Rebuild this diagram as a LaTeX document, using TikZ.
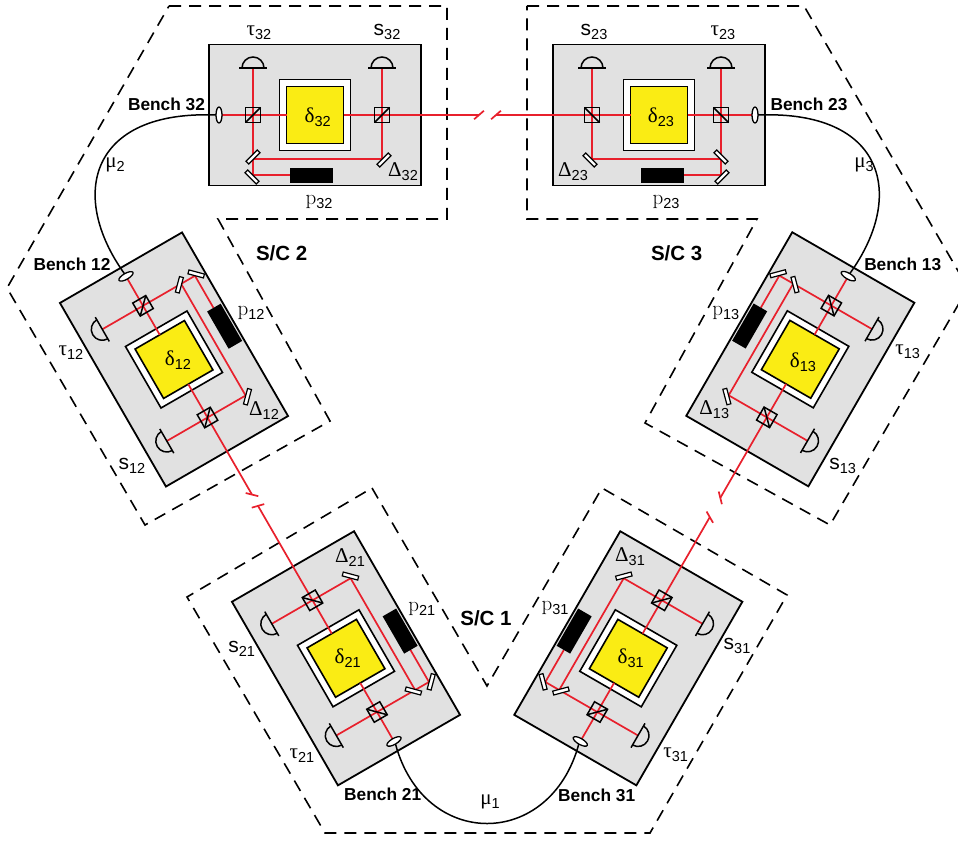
\documentclass[tikz,border=0pt]{standalone}
\usepackage{fontspec}
\setsansfont{Liberation Sans}
\newfontfamily\greekfam{Liberation Serif}
\usepackage{xcolor}
\usepackage{tikz}
\definecolor{benchgray}{RGB}{225,225,225}
\definecolor{massyellow}{RGB}{250,236,20}
\definecolor{beamred}{RGB}{232,32,44}
\tikzset{
  benchbox/.style={draw=black, fill=benchgray, line width=1.8pt},
  cagebox/.style={draw=black, fill=white, line width=1.6pt},
  massbox/.style={draw=black, fill=massyellow, line width=1.6pt},
  beam/.style={color=beamred, line width=1.7pt},
  splitter/.style={draw=black, line width=1.5pt},
  mirrorbox/.style={draw=black, fill=white, line width=1.2pt},
  lensbox/.style={draw=black, fill=white, line width=1.3pt},
  diode/.style={draw=black, line width=1.5pt},
  fibre/.style={draw=black, line width=1.5pt},
  craft/.style={draw=black, dash pattern=on 12pt off 8pt, line width=1.6pt},
  symlabel/.style={font=\fontsize{21}{23}\selectfont, inner sep=0pt, text=black},
  benchlabel/.style={font=\fontsize{17.3}{19}\selectfont\sffamily\bfseries, inner sep=0pt},
  craftlabel/.style={font=\fontsize{20.5}{23}\selectfont\sffamily\bfseries, inner sep=0pt}
}
\newcommand{\sublabel}[2]{#1\raisebox{-4pt}{\fontsize{14.5}{15}\selectfont\sffamily #2}}
% id, centre, rotation, flip, beam length, tick angle
\newcommand{\bench}[6]{
  \begin{scope}[shift={(#2)}, rotate=#3, yscale=#4]
    \coordinate (fib#1) at (-99,0);
    \draw[benchbox] (-106,-70.5) rectangle (106,70.5);
    \draw[cagebox] (-35.5,-35.5) rectangle (35.5,35.5);
    \draw[massbox] (-28.5,-28.5) rectangle (28.5,28.5);
    % beams
    \draw[beam] (-96,0) -- (-28.5,0);
    \draw[beam] (28.5,0) -- (#5,0);
    \draw[beam] (#5,0) ++(#6:6.5) -- ++(#6+180:13);
    \draw[beam] (-25,60) -- (-62,60) -- (-62,-47);
    \draw[beam] (-62,44) -- (67,44) -- (67,-47);
    % beam splitters
    \draw[splitter] (-69.5,-7.5) rectangle (-54.5,7.5);
    \draw[splitter] (-69.5,7.5) -- (-54.5,-7.5);
    \draw[splitter] (59.5,-7.5) rectangle (74.5,7.5);
    \draw[splitter] (59.5,7.5) -- (74.5,-7.5);
    % photodiodes
    \draw[diode] (-76,-47) -- (-48,-47);
    \draw[diode] (-73,-47) arc[start angle=180, end angle=360, radius=11];
    \draw[diode] (53,-47) -- (81,-47);
    \draw[diode] (56,-47) arc[start angle=180, end angle=360, radius=11];
    % mirrors and phase meter
    \draw[mirrorbox, rotate around={45:(-62,42)}] (-70,40) rectangle (-54,44);
    \draw[mirrorbox, rotate around={-45:(-63,62)}] (-71,60) rectangle (-55,64);
    \draw[mirrorbox, rotate around={45:(69,45)}] (61,43) rectangle (77,47);
    \fill[black] (-25,52.7) rectangle (18,68.3);
    \draw[lensbox] (-96,0) ellipse [x radius=3, y radius=8];
  \end{scope}
}
\begin{document}
\begin{tikzpicture}[x=1pt, y=-1pt]
  \useasboundingbox (0,0) rectangle (958,842);

  % Spacecraft outlines
  \draw[craft] (169,6) -- (447,6) -- (447,219) -- (218,219) -- (330,421) -- (145,525) -- (7,288) -- cycle;
  \draw[craft] (527,6) -- (804,6) -- (968,288) -- (830,525) -- (645,423) -- (757,219) -- (527,219) -- cycle;
  \draw[craft] (372,488) -- (487,686) -- (602,488) -- (787,595) -- (650,833) -- (325,833) -- (187,597) -- cycle;

  % Optical benches
  \bench{32}{315,115}{0}{1}{164}{-41}
  \bench{23}{659,115}{180}{-1}{163}{41}
  \bench{12}{174,359.5}{-60}{-1}{156}{46}
  \bench{21}{346,658.3}{120}{1}{176}{104}
  \bench{13}{800.3,359.3}{-120}{1}{160}{-44}
  \bench{31}{628.3,658.3}{60}{-1}{163}{60}

  % Fibres
  \draw[fibre] (fib32) .. controls (90,110) and (68,195) .. (fib12);
  \draw[fibre] (fib23) .. controls (884.5,110) and (906.5,195) .. (fib13);
  \draw[fibre] (fib21) .. controls (424,850) and (550,850) .. (fib31);

  % Labels
  \node[benchlabel] (lab32) at (166.5,104) {Bench 32};
  \node[benchlabel] (lab23) at (809,104) {Bench 23};
  \node[benchlabel] (lab12) at (72,264) {Bench 12};
  \node[benchlabel] (lab13) at (902.7,264) {Bench 13};
  \node[benchlabel] (lab21) at (382.7,794) {Bench 21};
  \node[benchlabel] (lab31) at (596.7,795) {Bench 31};

  \node[craftlabel] (craft2) at (281.7,253) {S/C 2};
  \node[craftlabel] (craft3) at (676.7,253) {S/C 3};
  \node[craftlabel] (craft1) at (486,618) {S/C 1};

  \node[symlabel] (mu1) at (490,802) {\sublabel{\greekfam μ}{1}};
  \node[symlabel] (mu2) at (115,165) {\sublabel{\greekfam μ}{2}};
  \node[symlabel] (mu3) at (864,165) {\sublabel{\greekfam μ}{3}};

  \node[symlabel] (tau32) at (259,33) {\sublabel{\greekfam τ}{32}};
  \node[symlabel] (s32) at (387,32) {\sublabel{\sffamily s}{32}};
  \node[symlabel] (delta32) at (317.7,117) {\sublabel{\greekfam δ}{32}};
  \node[symlabel] (cap32) at (403,172) {\sublabel{\greekfam Δ}{32}};
  \node[symlabel] (p32) at (319,202) {\sublabel{p}{32}};

  \node[symlabel] (s23) at (594,32) {\sublabel{\sffamily s}{23}};
  \node[symlabel] (tau23) at (723,33) {\sublabel{\greekfam τ}{23}};
  \node[symlabel] (delta23) at (661,117) {\sublabel{\greekfam δ}{23}};
  \node[symlabel] (cap23) at (573,172) {\sublabel{\greekfam Δ}{23}};
  \node[symlabel] (p23) at (666,202) {\sublabel{p}{23}};

  \node[symlabel] (tau12) at (71,353) {\sublabel{\greekfam τ}{12}};
  \node[symlabel] (s12) at (132,466) {\sublabel{\sffamily s}{12}};
  \node[symlabel] (delta12) at (178,360) {\sublabel{\greekfam δ}{12}};
  \node[symlabel] (cap12) at (264,411) {\sublabel{\greekfam Δ}{12}};
  \node[symlabel] (p12) at (251,313) {\sublabel{p}{12}};

  \node[symlabel] (s21) at (241.7,649) {\sublabel{\sffamily s}{21}};
  \node[symlabel] (tau21) at (302,756) {\sublabel{\greekfam τ}{21}};
  \node[symlabel] (delta21) at (347.7,658) {\sublabel{\greekfam δ}{21}};
  \node[symlabel] (cap21) at (350,558) {\sublabel{\greekfam Δ}{21}};
  \node[symlabel] (p21) at (421.7,609) {\sublabel{p}{21}};

  \node[symlabel] (s31) at (737,646) {\sublabel{\sffamily s}{31}};
  \node[symlabel] (tau31) at (675.7,755) {\sublabel{\greekfam τ}{31}};
  \node[symlabel] (delta31) at (630.7,658) {\sublabel{\greekfam δ}{31}};
  \node[symlabel] (cap31) at (630,557) {\sublabel{\greekfam Δ}{31}};
  \node[symlabel] (p31) at (555,608) {\sublabel{p}{31}};

  \node[symlabel] (p13) at (725.7,313) {\sublabel{p}{13}};
  \node[symlabel] (tau13) at (907.7,352) {\sublabel{\greekfam τ}{13}};
  \node[symlabel] (s13) at (842.7,466) {\sublabel{\sffamily s}{13}};
  \node[symlabel] (cap13) at (714.3,410) {\sublabel{\greekfam Δ}{13}};
  \node[symlabel] (delta13) at (803,362) {\sublabel{\greekfam δ}{13}};
\end{tikzpicture}
\end{document}
